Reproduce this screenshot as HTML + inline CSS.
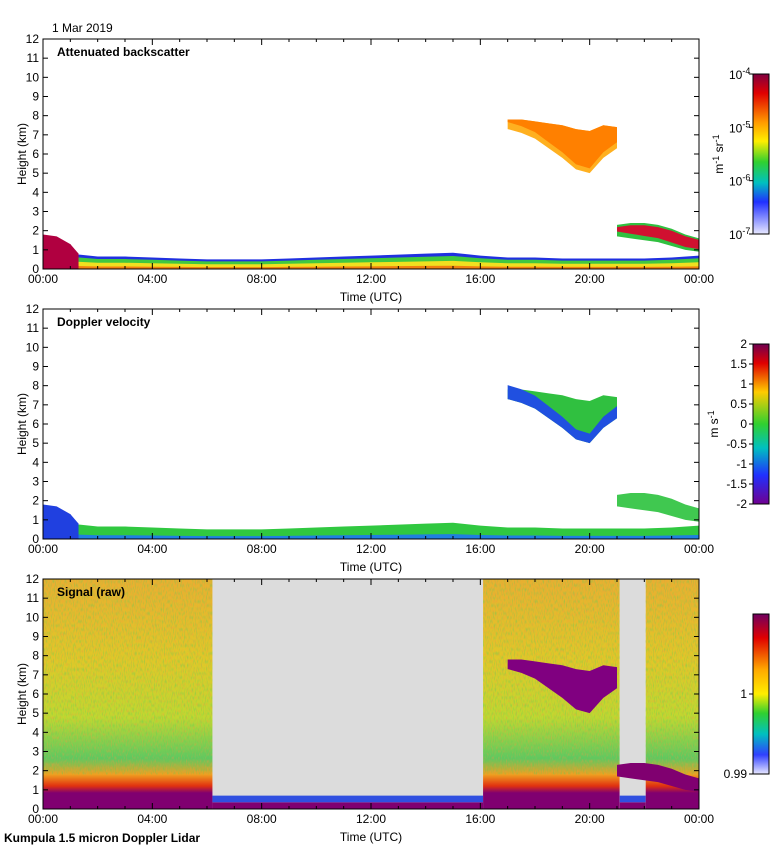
<!DOCTYPE html>
<html><head><meta charset="utf-8"><style>
body{margin:0;background:#fff;font-family:"Liberation Sans",sans-serif;}
svg text{font-family:"Liberation Sans",sans-serif;font-size:12px;fill:#000;}
</style></head><body>
<svg id="s" width="780" height="850" xmlns="http://www.w3.org/2000/svg">
<defs>
<linearGradient id="cb1" x1="0" y1="0" x2="0" y2="1">
<stop offset="0" stop-color="#800040"/><stop offset="0.12" stop-color="#e00000"/><stop offset="0.3" stop-color="#ff9900"/><stop offset="0.42" stop-color="#ffee00"/><stop offset="0.55" stop-color="#30d030"/><stop offset="0.68" stop-color="#00c0c0"/><stop offset="0.8" stop-color="#2030ff"/><stop offset="1" stop-color="#e8e8ff"/></linearGradient>
<linearGradient id="cb2" x1="0" y1="0" x2="0" y2="1">
<stop offset="0" stop-color="#700050"/><stop offset="0.12" stop-color="#e00000"/><stop offset="0.3" stop-color="#ffcc00"/><stop offset="0.5" stop-color="#30d030"/><stop offset="0.65" stop-color="#00c0c0"/><stop offset="0.82" stop-color="#2030ff"/><stop offset="1" stop-color="#700090"/></linearGradient>
<linearGradient id="cb3" x1="0" y1="0" x2="0" y2="1">
<stop offset="0" stop-color="#700060"/><stop offset="0.15" stop-color="#e00000"/><stop offset="0.35" stop-color="#ffaa00"/><stop offset="0.5" stop-color="#ffee00"/><stop offset="0.62" stop-color="#30d030"/><stop offset="0.75" stop-color="#00c0c0"/><stop offset="0.88" stop-color="#3040ff"/><stop offset="1" stop-color="#e8e8ff"/></linearGradient>
<linearGradient id="noiseBg" x1="0" y1="0" x2="0" y2="1">
<stop offset="0" stop-color="#e8b030"/><stop offset="0.35" stop-color="#e0c828"/><stop offset="0.6" stop-color="#c0d830"/><stop offset="0.78" stop-color="#60c860"/><stop offset="0.85" stop-color="#f0a020"/><stop offset="0.9" stop-color="#e03010"/><stop offset="0.93" stop-color="#800070"/><stop offset="1" stop-color="#800070"/></linearGradient>
<filter id="tex" x="0" y="0" width="1" height="1"><feTurbulence type="fractalNoise" baseFrequency="0.9 0.25" numOctaves="1" seed="3"/><feColorMatrix type="matrix" values="0 0 0 0 0.1  0 0 0 0 0.6  0 0 0 0 0.1  0 0 0 1.2 -0.55"/></filter>
<filter id="tex2" x="0" y="0" width="1" height="1"><feTurbulence type="fractalNoise" baseFrequency="0.8 0.3" numOctaves="1" seed="7"/><feColorMatrix type="matrix" values="0 0 0 0 0.95  0 0 0 0 0.3  0 0 0 0 0.05  0 0 0 1.2 -0.6"/></filter>
</defs>
<text x="52" y="32">1 Mar 2019</text>
<text x="4" y="842" style="font-weight:bold">Kumpula 1.5 micron Doppler Lidar</text>
<g id="g"></g>
</svg>
<script>
// data
const hours=[0,1,2,3,4,5,6,7,8,9,10,11,12,13,14,15,16,17,18,19,20,21,22,23,24];
const blTop=[1.0,0.8,0.65,0.65,0.6,0.55,0.5,0.5,0.5,0.55,0.6,0.65,0.7,0.75,0.8,0.85,0.7,0.6,0.6,0.55,0.55,0.55,0.55,0.6,0.7];
const cirrusHours=[17,17.5,18,18.5,19,19.5,20,20.5,21];
const cirrusBase=[7.3,7.1,6.8,6.3,5.8,5.2,5.0,5.8,6.3];
const cirrusTop=[7.8,7.8,7.7,7.6,7.5,7.3,7.2,7.5,7.4];
const lowHours=[21,21.5,22,22.5,23,23.5,24];
const lowBase=[1.7,1.6,1.5,1.4,1.2,1.0,0.9];
const lowTop=[2.3,2.4,2.4,2.3,2.1,1.8,1.6];
const panelTitles=["Attenuated backscatter","Doppler velocity","Signal (raw)"];
const xTickLabels=["00:00","04:00","08:00","12:00","16:00","20:00","00:00"];
const cb1Labels=["10","10","10","10"],cb1Exp=["-4","-5","-6","-7"];
const cb2Labels=["2","1.5","1","0.5","0","-0.5","-1","-1.5","-2"];
const segStart=[0,6.2,16.1,21.1,22.05],segEnd=[6.2,16.1,21.1,22.05,24],segType=["sig","gray","sig","gray","sig"];

const NS="http://www.w3.org/2000/svg",G=document.getElementById('g');
const X0=43,X1=699,PH=230,tops=[39,309,579];
const xs=h=>X0+h*(X1-X0)/24;
const ys=(p,k)=>tops[p]+PH-k*PH/12;
function el(t,a,par){const e=document.createElementNS(NS,t);for(const k in a)e.setAttribute(k,a[k]);(par||G).appendChild(e);return e;}
function band(p,hs,lo,hi,fill,name){let pts=hs.map((h,i)=>xs(h)+','+ys(p,hi[i]));for(let i=hs.length-1;i>=0;i--)pts.push(xs(hs[i])+','+ys(p,lo[i]));const e=el('polygon',{points:pts.join(' '),fill:fill});return e;}
const zero=hours.map(()=>0);
const sc=(a,f)=>a.map(v=>v*f);

for(let p=0;p<3;p++){
  const top=tops[p];
  if(p===2){
    for(let i=0;i<segStart.length;i++){
      const r=el('rect',{x:xs(segStart[i]),y:top,width:xs(segEnd[i])-xs(segStart[i]),height:PH,fill:segType[i]==='gray'?'#dcdcdc':'url(#noiseBg)'});
      
      if(segType[i]==='sig'){
        const t=el('rect',{x:xs(segStart[i]),y:top,width:xs(segEnd[i])-xs(segStart[i]),height:PH*0.85,filter:'url(#tex)'});
        const t2=el('rect',{x:xs(segStart[i]),y:top,width:xs(segEnd[i])-xs(segStart[i]),height:PH*0.85,filter:'url(#tex2)'});
      }
      else{band(2,[segStart[i],segEnd[i]],[0,0],[0.35,0.35],'#800070','gray-bl');band(2,[segStart[i],segEnd[i]],[0.35,0.35],[0.7,0.7],'#3050e0','gray-bl-top');}
    }
    band(2,cirrusHours,cirrusBase,cirrusTop,'#800080','signal-cirrus');
    band(2,lowHours,lowBase,lowTop,'#800070','signal-low-cloud');
  } else if(p===0){
    band(0,hours,zero,blTop,'#2030e0','bl-blue');
    band(0,hours,zero,sc(blTop,0.8),'#40c840','bl-green');
    band(0,hours,zero,sc(blTop,0.5),'#f0e020','bl-yellow');
    band(0,hours,zero,sc(blTop,0.2),'#f08010','bl-orange');
    band(0,[0,0.5,1,1.3],[0,0,0,0],[1.8,1.7,1.3,0.8],'#b00040','early-aerosol');
    band(0,cirrusHours,cirrusBase,cirrusTop,'#ffb020','cirrus-backscatter');
    band(0,cirrusHours,sc(cirrusBase,1.05),cirrusTop,'#ff8000','cirrus-core');
    band(0,lowHours,lowBase,lowTop,'#30c040','low-cloud-green');
    band(0,lowHours,sc(lowBase,1.15),sc(lowTop,0.95),'#d01030','low-cloud-red');
  } else {
    band(1,hours,zero,blTop,'#30c840','bl-velocity');
    band(1,hours,zero,sc(blTop,0.3),'#2080e0','bl-velocity-low');
    band(1,[0,0.5,1,1.3],[0,0,0,0],[1.8,1.7,1.3,0.8],'#2040e0','early-velocity');
    band(1,cirrusHours,cirrusBase,cirrusTop,'#30c040','cirrus-velocity');
    band(1,cirrusHours,cirrusBase,sc(cirrusBase,1.1),'#2050e0','cirrus-velocity-fall');
    band(1,lowHours,lowBase,lowTop,'#40c850','low-cloud-velocity');
  }
  const fr=el('rect',{x:X0,y:top,width:X1-X0,height:PH,fill:'none',stroke:'#000','stroke-width':1});
  
  const tt=el('text',{x:X0+14,y:top+17,'font-weight':'bold'});tt.textContent=panelTitles[p];
  
  for(let k=0;k<=12;k++){const y=ys(p,k);el('line',{x1:X0,x2:X0+5,y1:y,y2:y,stroke:'#000'});el('line',{x1:X1,x2:X1-5,y1:y,y2:y,stroke:'#000'});
    const l=el('text',{x:X0-4,y:y+4,'text-anchor':'end'});l.textContent=k;}
  for(let h=0;h<=24;h++){const x=xs(h),L=h%4===0?6:3;el('line',{x1:x,x2:x,y1:top+PH,y2:top+PH-L,stroke:'#000'});el('line',{x1:x,x2:x,y1:top,y2:top+L,stroke:'#000'});}
  xTickLabels.forEach((s,i)=>{const l=el('text',{x:xs(i*4),y:top+PH+14,'text-anchor':'middle'});l.textContent=s;});
  const xl=el('text',{x:(X0+X1)/2,y:top+PH+32,'text-anchor':'middle'});xl.textContent='Time (UTC)';
  const yl=el('text',{x:0,y:0,'text-anchor':'middle',transform:`translate(26,${top+PH/2}) rotate(-90)`});yl.textContent='Height (km)';
  const cy=top+35,ch=160;
  const cb=el('rect',{x:753,y:cy,width:16,height:ch,fill:`url(#cb${p+1})`,stroke:'#000'});
  if(p===0){cb1Labels.forEach((s,i)=>{const y=cy+i*ch/3;el('line',{x1:749,x2:753,y1:y,y2:y,stroke:'#000'});const t=el('text',{x:729,y:y+5});t.innerHTML=s+'<tspan dy="-5" font-size="9">'+cb1Exp[i]+'</tspan>';});
    const u=el('text',{x:0,y:0,transform:`translate(723,${cy+ch/2}) rotate(-90)`,'text-anchor':'middle'});u.innerHTML='m<tspan dy="-4" font-size="9">-1</tspan><tspan dy="4"> sr</tspan><tspan dy="-4" font-size="9">-1</tspan>';}
  if(p===1){cb2Labels.forEach((s,i)=>{const y=cy+i*ch/8;el('line',{x1:749,x2:753,y1:y,y2:y,stroke:'#000'});const t=el('text',{x:747,y:y+4,'text-anchor':'end'});t.textContent=s;});
    const u=el('text',{x:0,y:0,transform:`translate(718,${cy+ch/2}) rotate(-90)`,'text-anchor':'middle'});u.innerHTML='m s<tspan dy="-4" font-size="9">-1</tspan>';}
  if(p===2){[['1',cy+ch/2],['0.99',cy+ch]].forEach(([s,y])=>{el('line',{x1:749,x2:753,y1:y,y2:y,stroke:'#000'});const t=el('text',{x:747,y:y+4,'text-anchor':'end'});t.textContent=s;});}
}
</script>
</body></html>
